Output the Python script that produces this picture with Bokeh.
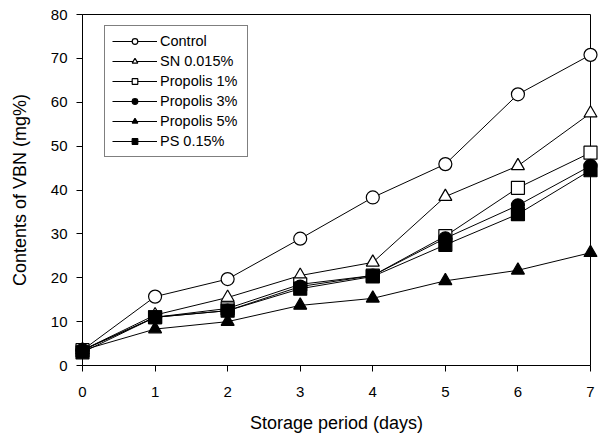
from bokeh.plotting import figure
from bokeh.models import Range1d, FixedTicker, Legend, LegendItem
from bokeh.embed import file_html
from bokeh.resources import INLINE

days = [0, 1, 2, 3, 4, 5, 6, 7]
control = [3.5, 15.7, 19.7, 28.9, 38.3, 45.9, 61.8, 70.8]
sn = [3.5, 11.5, 15.5, 20.5, 23.5, 38.5, 45.5, 57.5]
propolis1 = [3.5, 11.0, 13.0, 18.5, 20.5, 29.5, 40.5, 48.5]
propolis3 = [3.5, 11.0, 12.5, 18.0, 20.5, 29.0, 36.5, 45.5]
propolis5 = [3.5, 8.3, 10.0, 13.7, 15.3, 19.3, 21.7, 25.7]
ps = [3.0, 11.0, 12.5, 17.5, 20.3, 27.5, 34.5, 44.5]

labels = ["Control", "SN 0.015%", "Propolis 1%", "Propolis 3%", "Propolis 5%", "PS 0.15%"]
series = [control, sn, propolis1, propolis3, propolis5, ps]
markers = ["circle", "triangle", "square", "circle", "triangle", "square"]
filled = [False, False, False, True, True, True]

x_ticks = [0, 1, 2, 3, 4, 5, 6, 7]
y_ticks = [0, 10, 20, 30, 40, 50, 60, 70, 80]

FONT = "Liberation Sans"

p = figure(width=600, height=439, output_backend="svg", toolbar_location=None,
           x_range=Range1d(0, 7), y_range=Range1d(0, 80),
           min_border_left=82, min_border_right=10, min_border_top=14, min_border_bottom=74)
p.xgrid.visible = False
p.ygrid.visible = False
p.outline_line_color = "black"
p.outline_line_width = 1
p.background_fill_color = "white"
p.border_fill_color = "white"

for ax in (p.xaxis[0], p.yaxis[0]):
    ax.axis_line_color = "black"
    ax.major_tick_line_color = "black"
    ax.minor_tick_line_color = None
    ax.major_label_text_font = FONT
    ax.major_label_text_font_size = "15px"
    ax.major_label_text_color = "black"
    ax.axis_label_text_font = FONT
    ax.axis_label_text_font_size = "18px"
    ax.axis_label_text_font_style = "normal"
    ax.axis_label_text_color = "black"
    ax.major_tick_out = 6
    ax.major_tick_in = 0

p.xaxis.ticker = FixedTicker(ticks=x_ticks)
p.yaxis.ticker = FixedTicker(ticks=y_ticks)
p.xaxis.major_label_standoff = 15
p.yaxis.major_label_standoff = 9
p.xaxis.axis_label = "Storage period (days)"
p.yaxis.axis_label = "Contents of VBN (mg%)"
p.xaxis.axis_label_standoff = 13
p.yaxis.axis_label_standoff = 18

items = []
for lab, ys, mk, fl in zip(labels, series, markers, filled):
    l = p.line(days, ys, line_color="black", line_width=1)
    s = p.scatter(days, ys, marker=mk, size=13, line_color="black", line_width=1.2,
                  fill_color="black" if fl else "white", level="overlay")
    items.append(LegendItem(label=lab, renderers=[l, s]))

legend = Legend(items=items, location=(22, 208))
legend.label_text_font = FONT
legend.label_text_font_size = "14.5px"
legend.label_text_color = "black"
legend.glyph_width = 45
legend.glyph_height = 14
legend.label_height = 14
legend.label_width = 80
legend.spacing = 4
legend.padding = 7
legend.margin = 0
legend.label_standoff = 3
legend.border_line_color = "black"
legend.border_line_width = 1
legend.background_fill_alpha = 1
p.add_layout(legend)

open("out.html", "w").write(file_html(p, INLINE))
